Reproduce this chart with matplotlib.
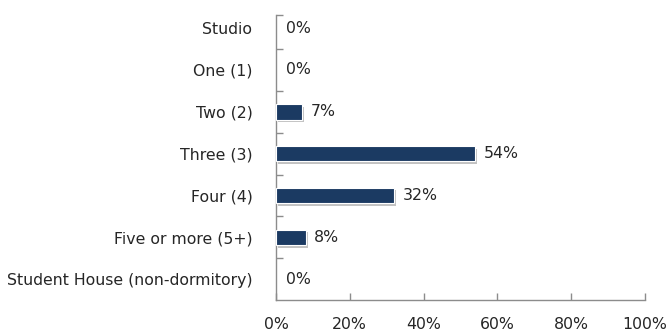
import matplotlib.pyplot as plt
import matplotlib.patheffects as pe
import numpy as np

# Bedroom count distribution
categories = ["Studio", "One (1)", "Two (2)", "Three (3)", "Four (4)",
              "Five or more (5+)", "Student House (non-dormitory)"]
shares = [0, 0, 7, 54, 32, 8, 0]
x_ticks = [0, 20, 40, 60, 80, 100]

plt.rcParams['font.family'] = ['DejaVu Sans']

fig = plt.figure(figsize=(6.66, 3.35), dpi=100)
ax = fig.add_axes([0.4144, 0.1045, 0.5541, 0.874])

bar_color = '#1B3A62'
axis_color = '#8C8C8C'
text_color = '#262626'
fs = 11.3

n = len(categories)
y = np.arange(n)
bars = ax.barh(y, shares, height=0.37, color=bar_color, edgecolor='white', linewidth=0.8,
               zorder=3)
for b, v in zip(bars, shares):
    if v == 0:
        b.set_visible(False)
        continue
    b.set_path_effects([pe.SimplePatchShadow(offset=(1.5, -2), shadow_rgbFace='#9A9A9A', alpha=0.6),
                        pe.Normal()])

for yi, v in zip(y, shares):
    ax.text(v + 2.4 if v else 2.8, yi, f"{v}%", va='center', ha='left', fontsize=fs,
            color=text_color)

ax.set_xlim(0, 100)
ax.set_ylim(n - 0.5, -0.5)

# value axis line stops a little short of the top
axis_top = -0.31
ax.spines['left'].set_bounds(n - 0.5, axis_top)

ax.set_yticks(y)
ax.set_yticklabels(categories, fontsize=fs, color=text_color)
ax.tick_params(axis='y', length=0, pad=17)
# boundary ticks between categories
ax.set_yticks([axis_top] + list(np.arange(0.5, n - 1, 1.0)), minor=True)
ax.tick_params(axis='y', which='minor', direction='in', length=5, color=axis_color, width=1)

ax.set_xticks(x_ticks)
ax.set_xticklabels([f"{t}%" for t in x_ticks], fontsize=fs, color=text_color)
ax.tick_params(axis='x', direction='in', length=5, color=axis_color, width=1, pad=12)

for side in ['top', 'right']:
    ax.spines[side].set_visible(False)
for side in ['left', 'bottom']:
    ax.spines[side].set_color(axis_color)
    ax.spines[side].set_linewidth(1)

fig.savefig('out.png', dpi=100)
